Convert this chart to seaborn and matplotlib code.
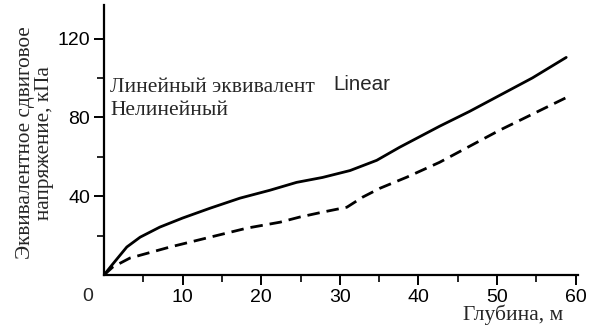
import matplotlib
matplotlib.use("Agg")
import matplotlib.pyplot as plt
import seaborn as sns
import pandas as pd

# Data
depth_linear = [0, 1.0, 2.9, 4.6, 7.1, 10, 13.5, 17.3, 21.1, 24.5, 27.8, 31.3, 34.7,
                37.6, 42.7, 46.5, 54.5, 58.8]
stress_linear = [0, 5.0, 14.2, 19.2, 24.3, 28.9, 33.9, 39, 43, 47, 49.5, 53, 58.2,
                 64.8, 75.5, 83, 100, 110.4]
depth_nonlinear = [0, 1.1, 3.3, 8.4, 13.5, 18.2, 22.4, 24.9, 27.8, 30.9, 32.9, 35.1,
                   38.5, 42.7, 50.3, 58.8]
stress_nonlinear = [0, 4, 8.6, 14.2, 19.2, 23.8, 26.8, 29.4, 31.9, 34.4, 39.5, 44,
                    49.6, 57.2, 73.4, 90]
x_ticks = [10, 20, 30, 40, 50, 60]
y_ticks = [40, 80, 120]
label_linear = "Линейный эквивалент"
label_nonlinear = "Нелинейный"

sns.set_theme(style="ticks")
plt.rcParams["font.family"] = ["Liberation Serif", "DejaVu Serif"]

fig = plt.figure(figsize=(5.9, 3.33), dpi=100)
ax = fig.add_axes([104 / 590, 1 - 275 / 333, 474 / 590, 270 / 333])

df_l = pd.DataFrame({"depth": depth_linear, "stress": stress_linear})
df_n = pd.DataFrame({"depth": depth_nonlinear, "stress": stress_nonlinear})
sns.lineplot(data=df_l, x="depth", y="stress", ax=ax, color="black", lw=2.0, sort=False)
sns.lineplot(data=df_n, x="depth", y="stress", ax=ax, color="black", lw=2.0, sort=False,
             linestyle=(0, (4.5, 2.5)))

ax.set_xlim(0, 60.3)
ax.set_ylim(0, 137)
ax.set_xticks(x_ticks)
ax.set_yticks(y_ticks)
ax.set_xticks([5, 15, 25, 35, 45, 55], minor=True)
ax.set_yticks([20, 60, 100], minor=True)
for sp in ["top", "right"]:
    ax.spines[sp].set_visible(False)
for sp in ["left", "bottom"]:
    ax.spines[sp].set_color("black")
    ax.spines[sp].set_linewidth(1.6)
ax.tick_params(axis="both", which="major", direction="out", length=7, width=1.4,
               colors="black", labelsize=14, pad=3)
ax.tick_params(axis="both", which="minor", direction="out", length=5, width=1.2,
               colors="black")
ax.tick_params(axis="x", which="major", pad=3)
for lab in ax.get_xticklabels() + ax.get_yticklabels():
    lab.set_family(["Liberation Sans", "DejaVu Sans"])
ax.text(-0.035, -0.08, "0", transform=ax.transAxes, ha="center", va="center",
        fontsize=14, family=["Liberation Sans", "DejaVu Sans"])

ax.set_xlabel("")
ax.set_ylabel("Эквивалентное сдвиговое\nнапряжение, кПа", fontsize=15.3, linespacing=1.05)
ax.yaxis.set_label_coords(-0.105, 0.49)
ax.text(0.863, -0.148, "Глубина, м", transform=ax.transAxes, ha="center", va="center",
        fontsize=15.5)

ax.text(0.013, 0.693, label_linear, transform=ax.transAxes, ha="left", va="center",
        fontsize=15.5)
ax.text(0.013, 0.611, label_nonlinear, transform=ax.transAxes, ha="left", va="center",
        fontsize=15.5)
ax.text(0.483, 0.706, "Linear", transform=ax.transAxes, ha="left", va="center",
        fontsize=14.8, family=["Liberation Sans", "DejaVu Sans"])

fig.savefig("out.png", dpi=100, facecolor="white")
